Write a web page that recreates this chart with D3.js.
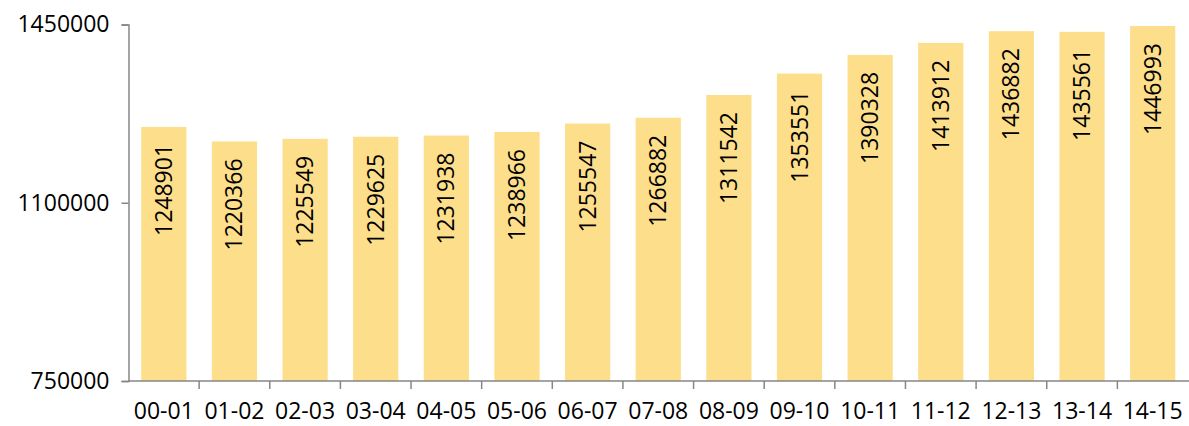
<!DOCTYPE html>
<html>
<head>
<meta charset="utf-8">
<script src="https://cdn.jsdelivr.net/npm/d3@7"></script>
<style>
  body { margin: 0; background: #fff; }
  svg text { font-family: "Open Sans", sans-serif; fill: #000; }
</style>
</head>
<body>
<div class="chart"></div>
<script>
// data
var years = ["00-01", "01-02", "02-03", "03-04", "04-05", "05-06", "06-07", "07-08",
             "08-09", "09-10", "10-11", "11-12", "12-13", "13-14", "14-15"];
var totals = [1248901, 1220366, 1225549, 1229625, 1231938, 1238966, 1255547, 1266882,
              1311542, 1353551, 1390328, 1413912, 1436882, 1435561, 1446993];
var yTicks = [750000, 1100000, 1450000];

var width = 1189, height = 426;
var plotLeft = 128.5, plotRight = 1188, plotTop = 24.5, plotBottom = 381;
var fontSize = "23px";

const svg = d3.select(".chart").append("svg")
    .attr("width", width)
    .attr("height", height);

const x = d3.scaleBand()
    .domain(years)
    .range([plotLeft, plotRight])
    .paddingInner(0.36)
    .paddingOuter(0.18);

const y = d3.scaleLinear()
    .domain([750000, 1450000])
    .range([plotBottom, plotTop]);

// bars
svg.append("g").selectAll("rect")
    .data(totals)
    .join("rect")
    .attr("x", (d, i) => x(years[i]))
    .attr("y", d => y(d))
    .attr("width", x.bandwidth())
    .attr("height", d => plotBottom - y(d))
    .attr("fill", "#FDDE8B");

// value labels, rotated, inside the bar top
svg.append("g").selectAll("text")
    .data(totals)
    .join("text")
    .attr("transform", (d, i) =>
        "translate(" + (x(years[i]) + x.bandwidth() / 2 + 8) + "," + (y(d) + 17) + ") rotate(-90)")
    .attr("text-anchor", "end")
    .style("font-size", fontSize)
    .text(d => d);

// y axis
const yAxis = svg.append("g")
    .attr("transform", "translate(" + plotLeft + ",0)")
    .call(d3.axisLeft(y).tickValues(yTicks).tickSize(7).tickPadding(12).tickFormat(d3.format("d")));

yAxis.select(".domain").attr("stroke", "#868686").attr("stroke-width", 1.5);
yAxis.selectAll(".tick line").attr("stroke", "#868686").attr("stroke-width", 1.5);
yAxis.selectAll(".tick text").style("font-size", fontSize).attr("fill", "#000");

// x axis: ticks at band edges
const xAxis = svg.append("g")
    .attr("transform", "translate(0," + plotBottom + ")");
xAxis.append("line")
    .attr("x1", plotLeft).attr("x2", width)
    .attr("stroke", "#868686").attr("stroke-width", 1.5);
var step = x.step();
xAxis.selectAll(".tk")
    .data(years.slice(1))
    .join("line")
    .attr("class", "tk")
    .attr("x1", (d, i) => plotLeft + step * (i + 1))
    .attr("x2", (d, i) => plotLeft + step * (i + 1))
    .attr("y1", 0).attr("y2", 8)
    .attr("stroke", "#868686").attr("stroke-width", 1.5);
xAxis.selectAll("text.lbl")
    .data(years)
    .join("text")
    .attr("class", "lbl")
    .attr("x", d => x(d) + x.bandwidth() / 2)
    .attr("y", 38)
    .attr("text-anchor", "middle")
    .style("font-size", fontSize)
    .text(d => d);
</script>
</body>
</html>
